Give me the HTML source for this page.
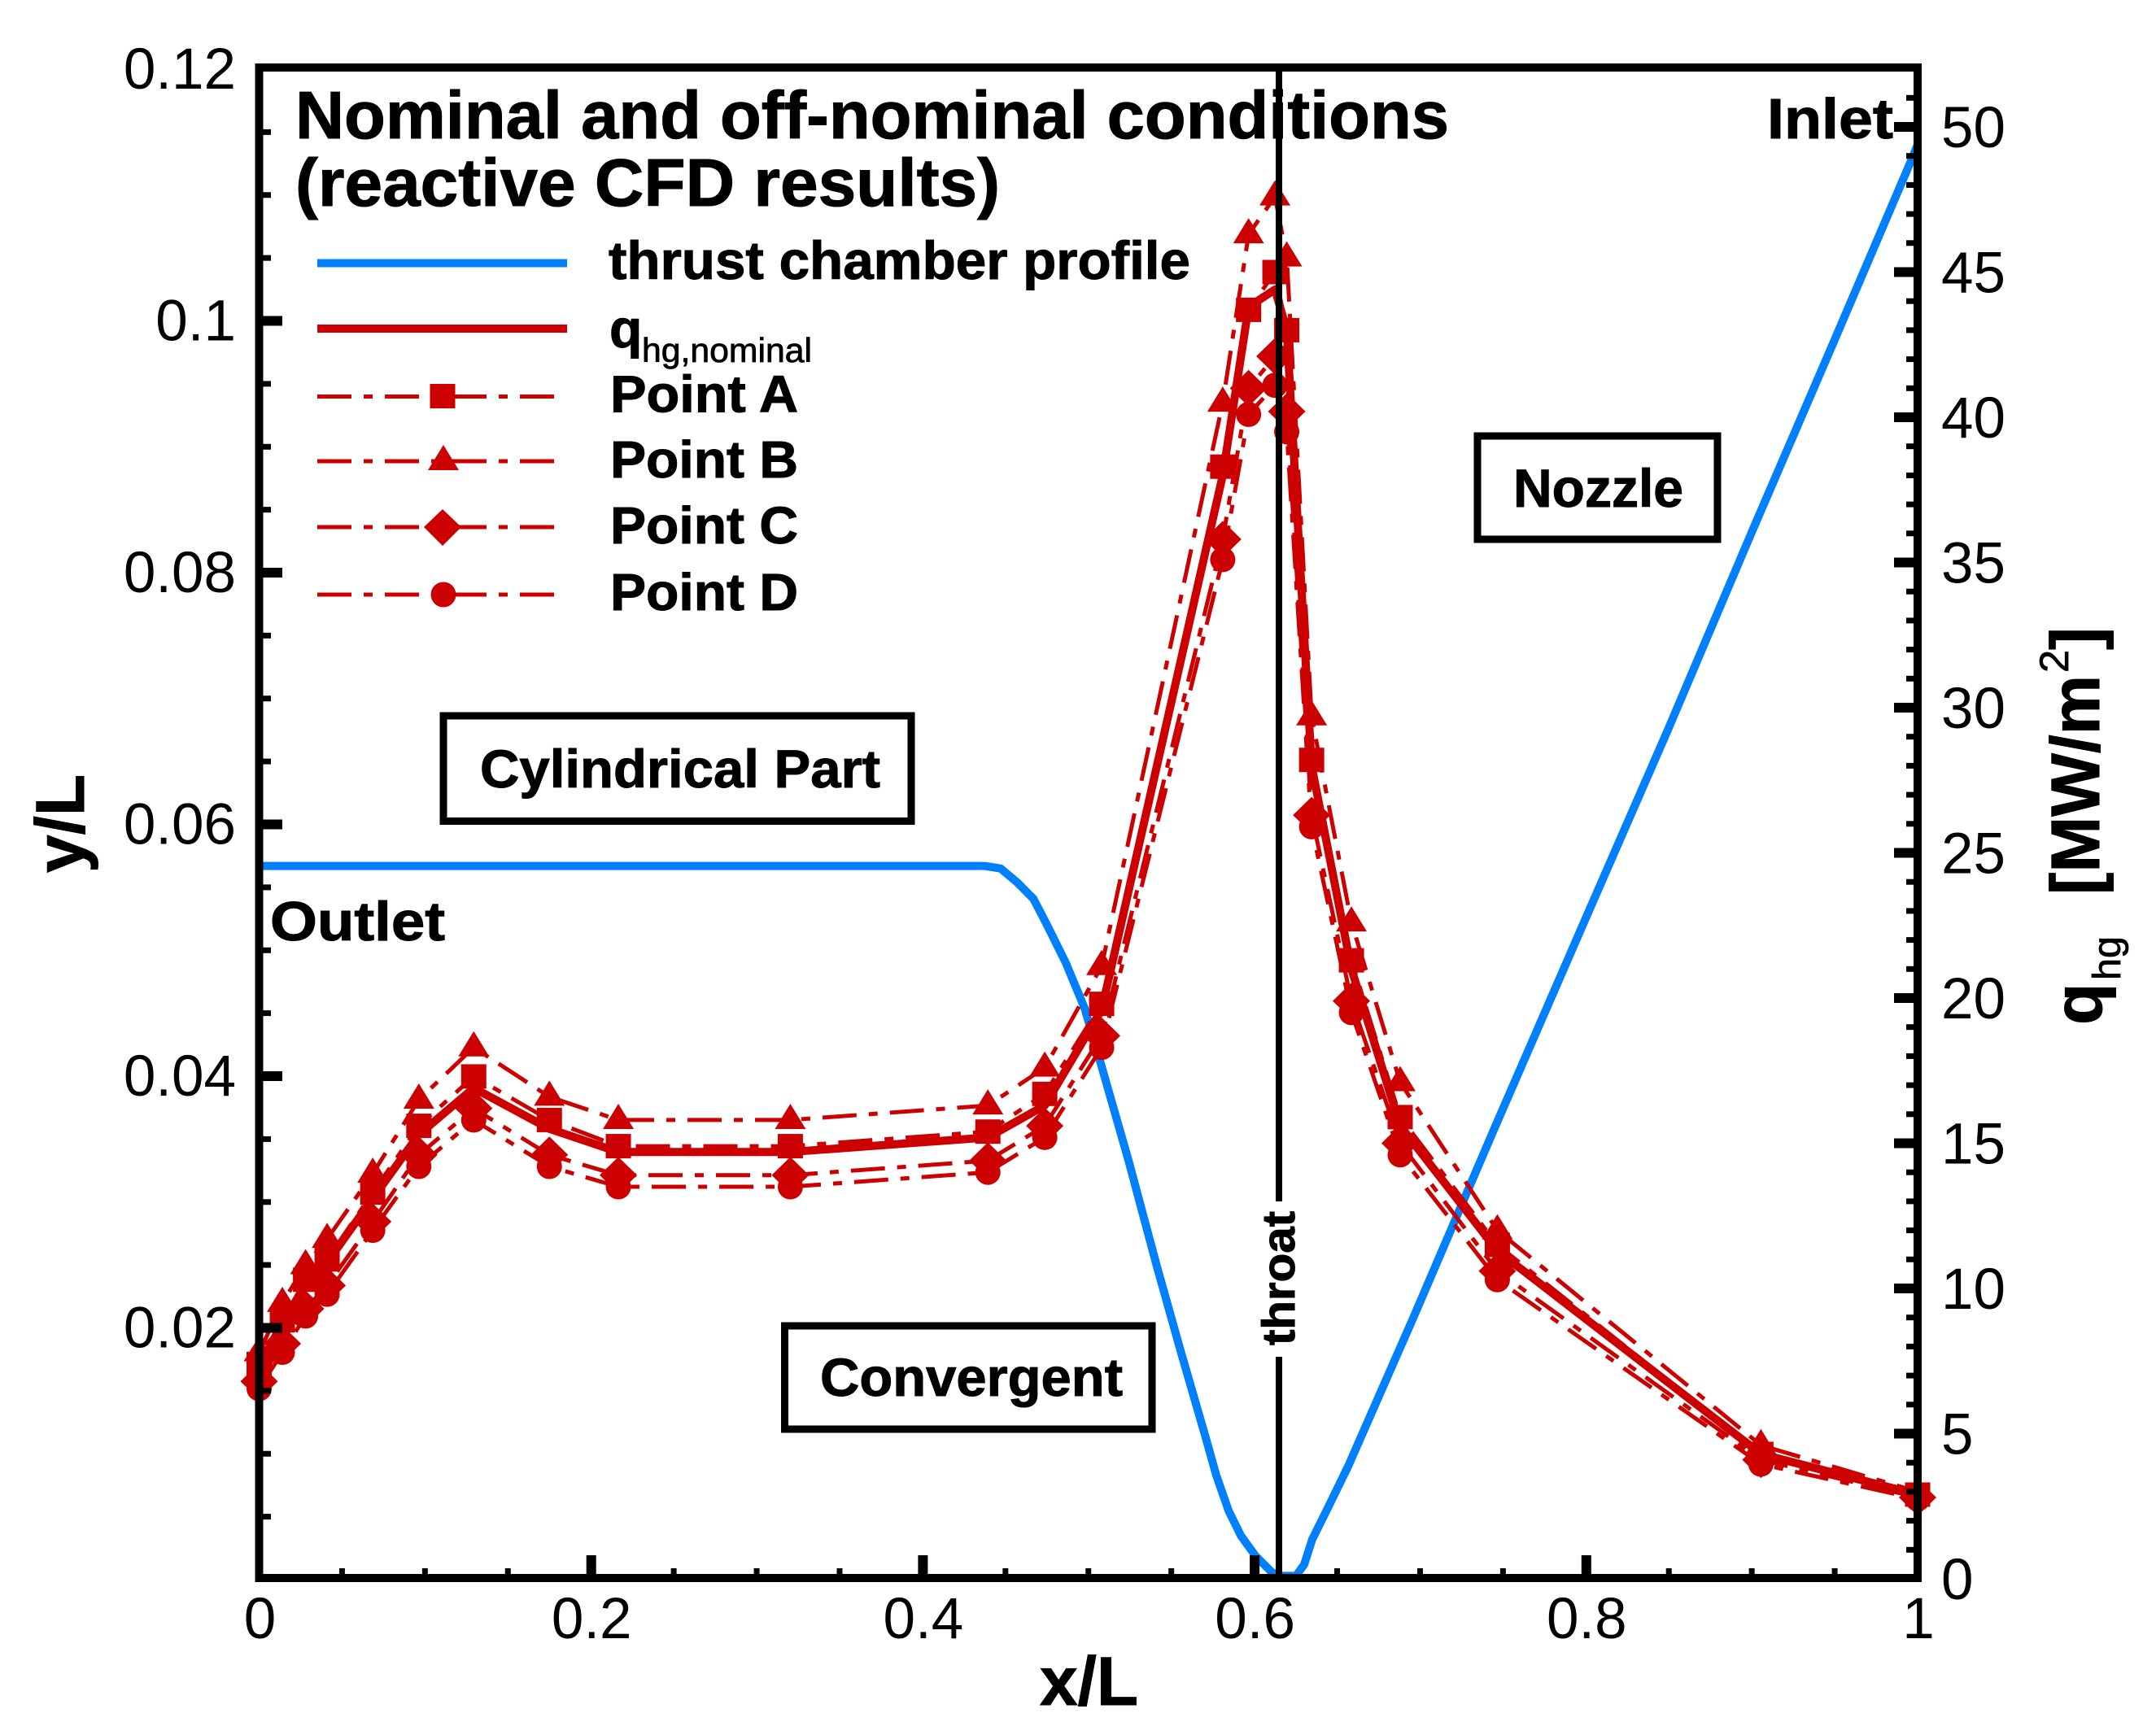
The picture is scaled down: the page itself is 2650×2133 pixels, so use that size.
<!DOCTYPE html>
<html lang="en">
<head>
<meta charset="utf-8">
<title>Nominal and off-nominal conditions</title>
<style>
html,body{margin:0;padding:0;background:#fff;}
svg{display:block;}
text{font-family:"Liberation Sans",sans-serif;fill:#000;}
.b{font-weight:bold;stroke:#000;stroke-width:1;}
</style>
</head>
<body>
<svg id="chart" xmlns="http://www.w3.org/2000/svg" width="2650" height="2133" viewBox="0 0 2650 2133">
<rect x="0" y="0" width="2650" height="2133" fill="#fff"/>
<g id="underlay">
  <text class="b" x="363" y="170" font-size="83" textLength="1418" lengthAdjust="spacingAndGlyphs">Nominal and off-nominal conditions</text>
  <text class="b" x="363" y="253" font-size="83" textLength="866" lengthAdjust="spacingAndGlyphs">(reactive CFD results)</text>
  <line x1="390" y1="323.5" x2="697" y2="323.5" stroke="#0080ff" stroke-width="10"/>
  <text class="b" x="748" y="343" font-size="66" textLength="715" lengthAdjust="spacingAndGlyphs">thrust chamber profile</text>
  <line x1="390" y1="404" x2="697" y2="404" stroke="#cc0000" stroke-width="10"/>
  <text class="b" x="749" y="427" font-size="66">q</text>
  <text x="789" y="445" font-size="42" textLength="209" lengthAdjust="spacingAndGlyphs" stroke="#000" stroke-width="0.8">hg,nominal</text>
  <g>
    <line x1="390" y1="487.5" x2="681" y2="487.5" stroke="#cc0000" stroke-width="5" stroke-dasharray="42 15 11 15"/>
    <rect x="528.5" y="472" width="31" height="30" fill="#cc0000"/>
    <text class="b" x="750" y="506.5" font-size="64" textLength="231" lengthAdjust="spacingAndGlyphs">Point A</text>
  </g>
  <g>
    <line x1="390" y1="567" x2="681" y2="567" stroke="#cc0000" stroke-width="5" stroke-dasharray="42 15 11 15"/>
    <polygon points="545,547 564,578 526,578" fill="#cc0000"/>
    <text class="b" x="750" y="587" font-size="64" textLength="231" lengthAdjust="spacingAndGlyphs">Point B</text>
  </g>
  <g>
    <line x1="390" y1="648" x2="681" y2="648" stroke="#cc0000" stroke-width="5" stroke-dasharray="42 15 11 15"/>
    <polygon points="544,626 567,648 544,671 521,648" fill="#cc0000"/>
    <text class="b" x="750" y="668" font-size="64" textLength="231" lengthAdjust="spacingAndGlyphs">Point C</text>
  </g>
  <g>
    <line x1="390" y1="731" x2="681" y2="731" stroke="#cc0000" stroke-width="5" stroke-dasharray="42 15 11 15"/>
    <circle cx="545" cy="731" r="15.5" fill="#cc0000"/>
    <text class="b" x="750" y="750" font-size="64" textLength="231" lengthAdjust="spacingAndGlyphs">Point D</text>
  </g>
</g>
<g id="plot"></g>
<g id="overlay">
  <line x1="1572" y1="83" x2="1572" y2="1477" stroke="#000" stroke-width="8"/>
  <line x1="1572" y1="1668" x2="1572" y2="1940" stroke="#000" stroke-width="8"/>
  <text class="b" font-size="57" transform="translate(1591 1654) rotate(-90)" textLength="165" lengthAdjust="spacingAndGlyphs">throat</text>
  <text class="b" x="332" y="1156" font-size="68" textLength="215" lengthAdjust="spacingAndGlyphs">Outlet</text>
  <text class="b" x="2172" y="170" font-size="70" textLength="155" lengthAdjust="spacingAndGlyphs">Inlet</text>
  <rect x="545" y="880" width="575" height="129.5" fill="none" stroke="#000" stroke-width="9"/>
  <text class="b" x="590" y="968" font-size="66" textLength="492" lengthAdjust="spacingAndGlyphs">Cylindrical Part</text>
  <rect x="964.5" y="1630" width="451.5" height="127" fill="none" stroke="#000" stroke-width="9"/>
  <text class="b" x="1008" y="1716" font-size="66" textLength="372" lengthAdjust="spacingAndGlyphs">Convergent</text>
  <rect x="1816" y="536" width="295" height="127" fill="none" stroke="#000" stroke-width="9"/>
  <text class="b" x="1860" y="623" font-size="66" textLength="209" lengthAdjust="spacingAndGlyphs">Nozzle</text>
</g>
<g id="axes">
  <rect x="318.5" y="83" width="2038.5" height="1857" fill="none" stroke="#000" stroke-width="10"/>
  <text class="b" x="1278" y="2096" font-size="84" textLength="121" lengthAdjust="spacingAndGlyphs">x/L</text>
  <text class="b" font-size="84" transform="translate(103 1073) rotate(-90)" textLength="121" lengthAdjust="spacingAndGlyphs">y/L</text>
  <text class="b" font-size="84" transform="translate(2583 1260) rotate(-90)">q</text>
  <text x="0" y="0" font-size="48" stroke="#000" stroke-width="0.8" transform="translate(2606 1205) rotate(-90)" textLength="54" lengthAdjust="spacingAndGlyphs">hg</text>
  <text class="b" font-size="84" transform="translate(2580 1100) rotate(-90)" textLength="270" lengthAdjust="spacingAndGlyphs">[MW/m</text>
  <text x="0" y="0" font-size="50" stroke="#000" stroke-width="0.8" transform="translate(2542 827) rotate(-90)" textLength="28" lengthAdjust="spacingAndGlyphs">2</text>
  <text class="b" font-size="84" transform="translate(2580 799) rotate(-90)">]</text>
</g>
<script>
var stationX = [0, 0.014, 0.028, 0.041, 0.0685, 0.0963, 0.1294, 0.175, 0.2166, 0.3203, 0.4394, 0.4737, 0.508, 0.581, 0.5966, 0.6125, 0.6196, 0.6346, 0.6586, 0.688, 0.7466, 0.9055, 1];
var nominalQ = [7.3, 8.8, 10.1, 10.9, 13.1, 15.3, 16.9, 15.5, 14.7, 14.7, 15.2, 16.3, 19.6, 38, 43.8, 44.4, 43, 28, 21, 15.6, 11.3, 4.3, 2.9];
var pointAQ = [7.4, 8.9, 10.3, 11, 13.3, 15.6, 17.3, 15.8, 14.9, 14.9, 15.4, 16.7, 19.8, 38.3, 43.7, 45, 43, 28.2, 21.3, 15.9, 11.5, 4.3, 2.9];
var pointBQ = [7.8, 9.5, 10.8, 11.7, 13.95, 16.5, 18.3, 16.6, 15.8, 15.8, 16.3, 17.6, 21.1, 40.5, 46.3, 47.6, 45.5, 29.7, 22.6, 17.1, 12, 4.6, 3];
var pointCQ = [6.8, 8.1, 9.3, 10.1, 12.3, 14.6, 16.2, 14.6, 13.9, 13.9, 14.4, 15.6, 18.7, 35.8, 41, 42.1, 40.2, 26.3, 19.9, 15, 10.6, 4.1, 2.8];
var pointDQ = [6.55, 7.8, 9.05, 9.8, 12, 14.2, 15.8, 14.2, 13.5, 13.5, 14, 15.2, 18.3, 35.1, 40.1, 41.1, 39.5, 25.9, 19.5, 14.6, 10.3, 3.95, 2.75];
var profileX = [0, 0.4373, 0.4471, 0.457, 0.4668, 0.4751, 0.4864, 0.4977, 0.5075, 0.5242, 0.5413, 0.556, 0.5707, 0.5771, 0.5845, 0.5919, 0.6007, 0.6105, 0.6149, 0.6252, 0.6301, 0.635, 0.6448, 0.6566, 0.6959, 0.745, 0.8004, 0.8494, 0.9009, 0.949, 0.9966, 1];
var profileY = [0.0567, 0.0567, 0.0565, 0.0554, 0.0541, 0.052, 0.049, 0.0454, 0.041, 0.0333, 0.0249, 0.018, 0.0113, 0.0083, 0.0055, 0.0035, 0.0019, 0.0006, 0.0003, 0.0003, 0.0012, 0.0032, 0.0058, 0.009, 0.0208, 0.0359, 0.0527, 0.0675, 0.0835, 0.0982, 0.1129, 0.114];
var xTickLabels = ["0", "0.2", "0.4", "0.6", "0.8", "1"];
var yTickLabels = ["0.02", "0.04", "0.06", "0.08", "0.1", "0.12"];
var rightTickLabels = ["0", "5", "10", "15", "20", "25", "30", "35", "40", "45", "50"];

var NS = 'http://www.w3.org/2000/svg';
var RED = '#cc0000';
function xAxis(v) { return 318.5 + v * 2038.5; }
function yLeftAxis(v) { return 1942 - v * 15475; }
function yRightAxis(v) { return 1941 - v * 35.7; }
function make(tag, parent, attrs) {
  var el = document.createElementNS(NS, tag);
  for (var k in attrs) { el.setAttribute(k, attrs[k]); }
  parent.appendChild(el);
  return el;
}
function pathFrom(xs, ys, xf, yf) {
  var d = '';
  for (var i = 0; i < xs.length; i++) {
    d += (i ? 'L' : 'M') + xf(xs[i]).toFixed(1) + ' ' + yf(ys[i]).toFixed(1);
  }
  return d;
}
var plot = document.getElementById('plot');
var axes = document.getElementById('axes');

var profile = make('path', plot, { d: pathFrom(profileX, profileY, xAxis, yLeftAxis), fill: 'none', stroke: '#0080ff', 'stroke-width': 10, 'stroke-linejoin': 'round' });



var nominal = make('path', plot, { d: pathFrom(stationX, nominalQ, xAxis, yRightAxis), fill: 'none', stroke: RED, 'stroke-width': 10, 'stroke-linejoin': 'round' });



function drawMarker(kind, cx, cy, parent) {
  if (kind === 'a') {
    return make('rect', parent, { x: cx - 15.5, y: cy - 15, width: 31, height: 30, fill: RED });
  }
  if (kind === 'b') {
    return make('polygon', parent, { points: cx + ',' + (cy - 20) + ' ' + (cx + 19) + ',' + (cy + 11) + ' ' + (cx - 19) + ',' + (cy + 11), fill: RED });
  }
  if (kind === 'c') {
    return make('polygon', parent, { points: cx + ',' + (cy - 22.5) + ' ' + (cx + 23) + ',' + cy + ' ' + cx + ',' + (cy + 22.5) + ' ' + (cx - 23) + ',' + cy, fill: RED });
  }
  return make('circle', parent, { cx: cx, cy: cy, r: 15.5, fill: RED });
}
function drawSeries(kind, values) {
  var line = make('path', plot, { d: pathFrom(stationX, values, xAxis, yRightAxis), fill: 'none', stroke: RED, 'stroke-width': 5, 'stroke-dasharray': '42 15 11 15' });
  
  
  for (var i = 0; i < values.length; i++) {
    var m = drawMarker(kind, xAxis(stationX[i]), yRightAxis(values[i]), plot);
    
    
  }
}
drawSeries('a', pointAQ);
drawSeries('b', pointBQ);
drawSeries('c', pointCQ);
drawSeries('d', pointDQ);

function tickRect(x, y, w, h, name) {
  var t = make('rect', axes, { x: x, y: y, width: w, height: h, fill: '#000' });
  
  
}
var i, v, px;
for (i = 1; i < 20; i++) {
  v = i / 20;
  px = xAxis(v);
  if (i % 4 === 0) { tickRect(px - 5.5, 1912, 12, 26, 'x-major-tick'); }
  else { tickRect(px - 3.5, 1928, 7, 10, 'x-minor-tick'); }
}
for (i = 1; i < 24; i++) {
  v = i * 0.005;
  px = yLeftAxis(v);
  if (i % 4 === 0) { tickRect(323, px - 6, 24, 12, 'y-major-tick'); }
  else { tickRect(323, px - 3.5, 10, 7, 'y-minor-tick'); }
}
for (i = 1; i <= 51; i++) {
  px = yRightAxis(i);
  if (i % 5 === 0) { tickRect(2328, px - 6, 25, 12, 'right-major-tick'); }
  else { tickRect(2343, px - 3.5, 10, 7, 'right-minor-tick'); }
}
function label(str, x, y, anchor, name) {
  var t = make('text', axes, { x: x, y: y, 'font-size': 71, 'text-anchor': anchor });
  t.textContent = str;
  
  
}
xTickLabels.forEach(function (s, idx) {
  label(s, xAxis(idx * 0.2) + 1, 2014, 'middle', 'x-tick-label');
});
yTickLabels.forEach(function (s, idx) {
  label(s, 290, yLeftAxis((idx + 1) * 0.02) + 24, 'end', 'y-tick-label');
});
rightTickLabels.forEach(function (s, idx) {
  label(s, 2386, yRightAxis(idx * 5) + 25, 'start', 'right-tick-label');
});
</script>
</svg>
</body>
</html>
